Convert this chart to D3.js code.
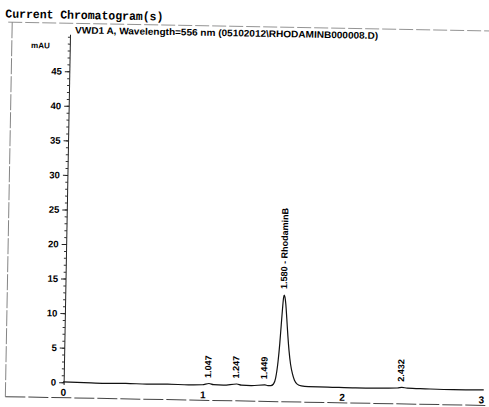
<html><head>
<script src="https://d3js.org/d3.v7.min.js"></script>
<style>
  body { margin: 0; background: #fff; }
  text { font-family: "Liberation Sans", Arial, sans-serif; fill: #000; }
</style>
</head>
<body>
<svg id="chrom" width="489" height="407" style="background:#fff"></svg>
<script>
// ---- data ----
const yTicks = [0, 5, 10, 15, 20, 25, 30, 35, 40, 45];
const xTicks = [0, 1, 2, 3];

// trace: retention time (min) and signal (mAU)
const traceTime = [0.00, 0.15, 0.30, 0.45, 0.60, 0.75, 0.90, 1.00, 1.047, 1.08, 1.15, 1.247, 1.28, 1.35, 1.449, 1.47,
                   1.490, 1.510, 1.525, 1.540, 1.550, 1.558, 1.565, 1.571, 1.576, 1.581, 1.588, 1.597, 1.607, 1.617,
                   1.630, 1.645, 1.660, 1.680, 1.710, 1.760, 1.90, 2.10, 2.30, 2.40, 2.432, 2.47, 2.60, 2.80, 3.02];
const traceMAU  = [0.05, 0.00, -0.05, 0.00, -0.05, 0.00, -0.05, 0.00, 0.20, 0.05, 0.00, 0.20, 0.05, 0.00, 0.15, 0.05,
                   0.05, 0.30, 1.20, 3.60, 6.20, 8.90, 11.2, 12.8, 13.2, 12.9, 11.9, 9.8, 7.3, 5.2,
                   3.2, 1.8, 0.9, 0.35, 0.10, 0.02, 0.00, -0.05, 0.00, 0.05, 0.15, 0.05, 0.00, -0.05, 0.00];

const peakTimes  = [1.047, 1.247, 1.449, 1.580, 2.432];
const peakHeight = [0.15, 0.15, 0.10, 13.2, 0.10];
const peakNames  = ["", "", "", "RhodaminB", ""];

const svg = d3.select("#chrom");
// the scan is tilted by about a degree
const g = svg.append("g").attr("transform", "rotate(1.05,244,200)");

const x = d3.scaleLinear().domain([0, 3]).range([66.5, 484.4]);
const y = d3.scaleLinear().domain([0, 45]).range([385.5, 74.5]);
const axisX = 67.5;

// frame
g.append("line").attr("x1", 5).attr("x2", 489).attr("y1", 26.5).attr("y2", 26.5)
  .attr("stroke", "#888").attr("stroke-width", 0.9).attr("stroke-dasharray", "14,3");
g.append("line").attr("x1", 9).attr("x2", 9).attr("y1", 26.5).attr("y2", 401)
  .attr("stroke", "#777").attr("stroke-width", 0.9).attr("stroke-dasharray", "16,2");
g.append("line").attr("x1", 9).attr("x2", 489).attr("y1", 401).attr("y2", 401)
  .attr("stroke", "#444").attr("stroke-width", 1).attr("stroke-dasharray", "20,3");

// titles
g.append("text").attr("x", 2).attr("y", 22)
  .style("font-family", "'Liberation Mono', monospace").style("font-size", "12px")
  .style("font-weight", "bold")
  .attr("textLength", 158).attr("lengthAdjust", "spacingAndGlyphs")
  .text("Current Chromatogram(s)");
g.append("text").attr("x", 72).attr("y", 36.5)
  .style("font-size", "9.5px").style("font-weight", "bold")
  .attr("textLength", 303).attr("lengthAdjust", "spacingAndGlyphs")
  .text("VWD1 A, Wavelength=556 nm (05102012\\RHODAMINB000008.D)");
g.append("text").attr("x", 47).attr("y", 52).attr("text-anchor", "end")
  .style("font-size", "8px").style("font-weight", "bold")
  .text("mAU");

// y axis
g.append("line").attr("x1", axisX).attr("x2", axisX)
  .attr("y1", y(50.3)).attr("y2", y(-0.4))
  .attr("stroke", "#222").attr("stroke-width", 1);
const minor = g.append("g").attr("transform", "translate(" + axisX + ",0)")
  .call(d3.axisLeft(y).tickValues(d3.range(0, 51, 1)).tickSize(2.5).tickFormat(""));
minor.select(".domain").remove();
minor.selectAll("line").attr("stroke", "#333");
const yAx = g.append("g").attr("transform", "translate(" + axisX + ",0)")
  .call(d3.axisLeft(y).tickValues(yTicks).tickSize(5).tickPadding(3));
yAx.select(".domain").remove();
yAx.selectAll("line").attr("stroke", "#222");
yAx.selectAll("text").style("font-size", "9.5px").style("font-weight", "bold")
  .style("font-family", "'Liberation Sans', Arial, sans-serif").attr("fill", "#000");

// x axis labels sit just above the bottom frame line
const xAx = g.append("g").attr("transform", "translate(0,401)")
  .call(d3.axisTop(x).tickValues(xTicks).tickSize(0).tickPadding(2).tickFormat(d3.format("d")));
xAx.select(".domain").remove();
xAx.selectAll("text").style("font-size", "10px").style("font-weight", "bold")
  .style("font-family", "'Liberation Sans', Arial, sans-serif").attr("fill", "#000");

// trace
const pts = traceTime.map((t, i) => [t, traceMAU[i]]);
const line = d3.line().x(d => x(d[0])).y(d => y(d[1])).curve(d3.curveMonotoneX);
g.append("path").datum(pts)
  .attr("d", line)
  .attr("fill", "none").attr("stroke", "#111").attr("stroke-width", 1.2);

// peak labels
peakTimes.forEach((t, i) => {
  const px = x(t) + 2;
  const py = y(peakHeight[i]) - 6;
  g.append("text")
    .attr("transform", "translate(" + px + "," + py + ") rotate(-90)")
    .style("font-size", "9px").style("font-weight", "bold")
    .text(t.toFixed(3) + (peakNames[i] ? " - " + peakNames[i] : ""));
});
</script>
</body>
</html>
